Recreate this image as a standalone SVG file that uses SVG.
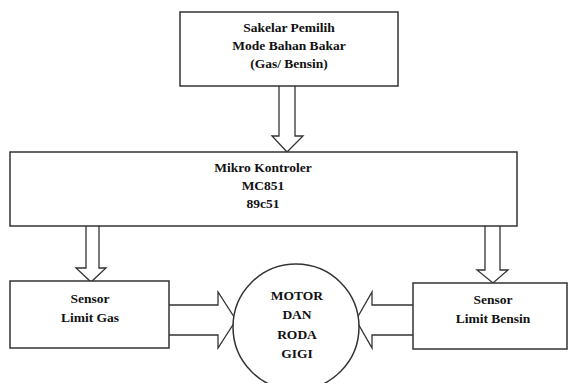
<svg xmlns="http://www.w3.org/2000/svg" width="568" height="383" viewBox="0 0 568 383" font-family="Liberation Serif, DejaVu Serif, serif">
<style>
.box{fill:#fff;stroke:#333;stroke-width:1.5}
.arr{fill:#fff;stroke:#333;stroke-width:1.3;stroke-linejoin:miter}
.t{font-weight:bold;font-size:13.5px;fill:#111;text-anchor:middle}
</style>
<rect width="568" height="383" fill="#fff"/>
<g id="connectors">
<path class="arr" d="M279,86 V136 H272 L287,152 L303,136 H295 V86"/>
<path class="arr" d="M86,226 V268 H76 L91,282 L106,268 H99 V226"/>
<path class="arr" d="M485,226 V270 H477 L493,283 L508,270 H500 V226"/>
<path class="arr" d="M169,305 H218 V292 L236,320 L218,348 V335 H169"/>
<path class="arr" d="M413,305 H372 V292 L356,320 L372,348 V335 H413"/>
</g>
<g id="sakelar">
<rect class="box" x="180" y="12" width="218" height="74"/>
<text class="t" x="289" y="32">Sakelar Pemilih</text>
<text class="t" x="289" y="50">Mode Bahan Bakar</text>
<text class="t" x="289" y="68">(Gas/ Bensin)</text>
</g>
<g id="mikro">
<rect class="box" x="10" y="152" width="507" height="74"/>
<text class="t" x="263" y="172">Mikro Kontroler</text>
<text class="t" x="263" y="190">MC851</text>
<text class="t" x="263" y="208">89c51</text>
</g>
<g id="sensor-gas">
<rect class="box" x="10" y="281" width="159" height="67"/>
<text class="t" x="90" y="303">Sensor</text>
<text class="t" x="90" y="322">Limit Gas</text>
</g>
<g id="motor">
<circle class="box" cx="296" cy="327" r="63"/>
<text class="t" x="297" y="300">MOTOR</text>
<text class="t" x="297" y="319">DAN</text>
<text class="t" x="297" y="339">RODA</text>
<text class="t" x="297" y="358">GIGI</text>
</g>
<g id="sensor-bensin">
<rect class="box" x="413" y="283" width="154" height="66"/>
<text class="t" x="493" y="304">Sensor</text>
<text class="t" x="493" y="323">Limit Bensin</text>
</g>
</svg>
